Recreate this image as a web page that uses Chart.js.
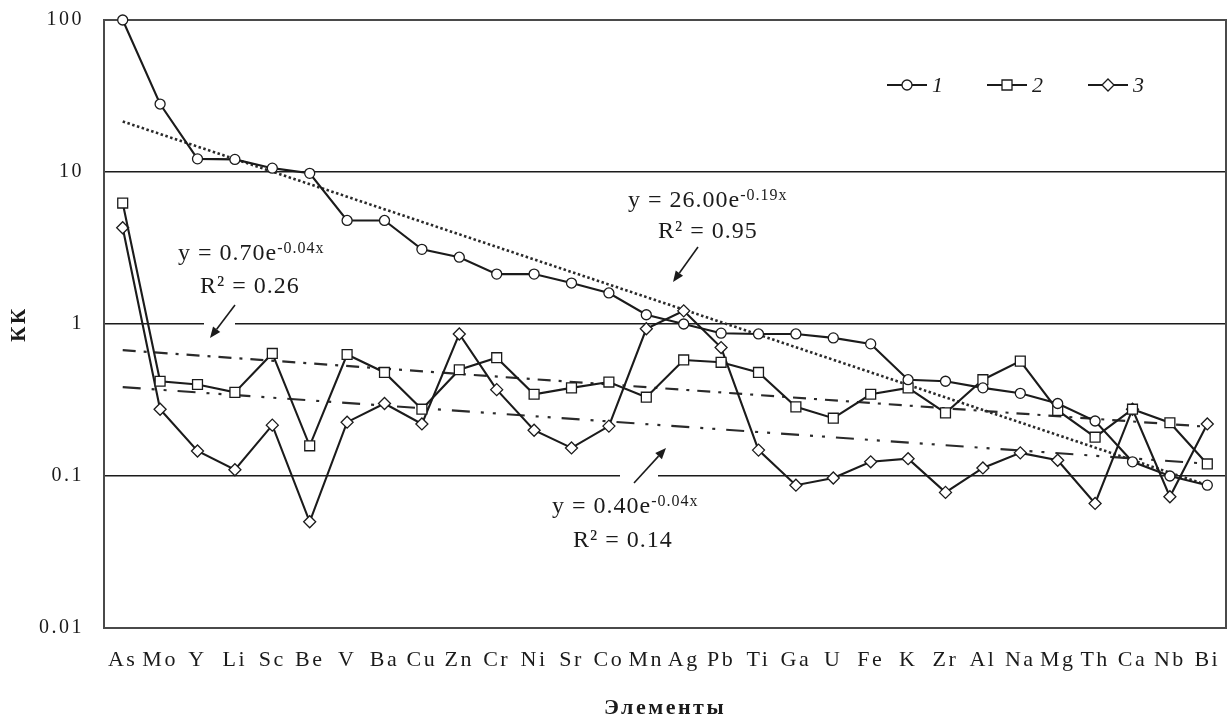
<!DOCTYPE html>
<html>
<head>
<meta charset="utf-8">
<script src="https://cdn.jsdelivr.net/npm/chart.js@4/dist/chart.umd.min.js"></script>
<style>
  html, body { margin: 0; padding: 0; background: #fff; }
  #wrap { width: 1227px; height: 722px; }
</style>
</head>
<body>
<div id="wrap"><canvas id="c" width="1227" height="722"></canvas></div>
<script>
// Concentration coefficients (КК) by element
const elements = ['As','Mo','Y','Li','Sc','Be','V','Ba','Cu','Zn','Cr','Ni','Sr','Co','Mn','Ag','Pb','Ti','Ga','U','Fe','K','Zr','Al','Na','Mg','Th','Ca','Nb','Bi'];
const series1 = [100, 28, 12.2, 12.1, 10.6, 9.8, 4.8, 4.8, 3.1, 2.75, 2.13, 2.13, 1.86, 1.6, 1.15, 1.0, 0.87, 0.86, 0.86, 0.81, 0.74, 0.43, 0.42, 0.38, 0.35, 0.30, 0.23, 0.124, 0.10, 0.087];
const series2 = [6.25, 0.42, 0.40, 0.355, 0.64, 0.158, 0.63, 0.48, 0.275, 0.50, 0.60, 0.345, 0.38, 0.415, 0.33, 0.58, 0.56, 0.48, 0.285, 0.24, 0.345, 0.38, 0.26, 0.43, 0.57, 0.27, 0.18, 0.275, 0.224, 0.12];
const series3 = [4.3, 0.275, 0.146, 0.11, 0.216, 0.05, 0.226, 0.30, 0.22, 0.86, 0.37, 0.20, 0.153, 0.213, 0.93, 1.22, 0.70, 0.148, 0.087, 0.097, 0.124, 0.13, 0.078, 0.113, 0.142, 0.127, 0.066, 0.275, 0.073, 0.22];
const seriesNames = ['1', '2', '3'];
// Exponential trends y = a·e^(b·x), x = 1..n
const trendA = [26.00, 0.70, 0.40];
const trendB = [-0.19, -0.04, -0.04];
const trendR2 = [0.95, 0.26, 0.14];
const yTicks = [0.01, 0.1, 1, 10, 100];

const SERIF = '"Liberation Serif", "Times New Roman", serif';
const INK = '#1b1b1b';

// Straight on a log axis, so the two end points define the trend line
function trendLine(i) {
  const n = elements.length;
  return elements.map((_, k) => (k === 0 || k === n - 1) ? trendA[i] * Math.exp(trendB[i] * (k + 1)) : null);
}

const markerStyles = [
  { pointStyle: 'circle', pointRadius: 5 },
  { pointStyle: 'rect', pointRadius: 7 },
  { pointStyle: 'rectRot', pointRadius: 6 }
];
const seriesData = [series1, series2, series3];

const datasets = seriesData.map((d, i) => ({
  label: seriesNames[i],
  data: d,
  borderColor: INK,
  borderWidth: 2.1,
  pointStyle: markerStyles[i].pointStyle,
  pointRadius: markerStyles[i].pointRadius,
  pointBackgroundColor: '#fff',
  pointBorderColor: INK,
  pointBorderWidth: 1.3,
  tension: 0,
  clip: 8
}));
const trendDash = [[2.5, 2.5], [13, 8, 3, 8], [18, 11, 3, 9, 3, 11]];
trendDash.forEach((dash, i) => datasets.push({
  label: 'trend ' + seriesNames[i],
  data: trendLine(i),
  borderColor: '#2a2a2a',
  borderWidth: i === 0 ? 2.6 : 2.2,
  borderDash: dash,
  pointRadius: 0,
  spanGaps: true,
  tension: 0
}));

// Equation labels with their arrows (pixel placement)
const notes = [
  { series: 0, x: 628, y: 207, rx: 658, ry: 238, from: [698, 247], to: [673, 282] },
  { series: 1, x: 178, y: 260, rx: 200, ry: 293, from: [235, 305], to: [210, 338] },
  { series: 2, x: 552, y: 513, rx: 573, ry: 547, from: [634, 483], to: [666, 448] }
];
// Breaks cut into the grid lines around the arrows
const gridBreaks = [ { value: 1, x0: 204, x1: 235 }, { value: 0.1, x0: 620, x1: 658 } ];

function drawMarker(ctx, style, x, y) {
  ctx.beginPath();
  if (style === 'circle') {
    ctx.arc(x, y, 5, 0, Math.PI * 2);
  } else if (style === 'rect') {
    ctx.rect(x - 5, y - 5, 10, 10);
  } else {
    ctx.moveTo(x, y - 6); ctx.lineTo(x + 6, y); ctx.lineTo(x, y + 6); ctx.lineTo(x - 6, y); ctx.closePath();
  }
  ctx.fillStyle = '#fff';
  ctx.fill();
  ctx.lineWidth = 1.3;
  ctx.strokeStyle = INK;
  ctx.stroke();
}

function drawArrow(ctx, from, to) {
  const ang = Math.atan2(to[1] - from[1], to[0] - from[0]);
  const len = 11, half = 4.5;
  const bx = to[0] - Math.cos(ang) * len, by = to[1] - Math.sin(ang) * len;
  ctx.strokeStyle = INK; ctx.lineWidth = 1.6;
  ctx.beginPath(); ctx.moveTo(from[0], from[1]); ctx.lineTo(bx, by); ctx.stroke();
  ctx.beginPath();
  ctx.moveTo(to[0], to[1]);
  ctx.lineTo(bx + Math.sin(ang) * half, by - Math.cos(ang) * half);
  ctx.lineTo(bx - Math.sin(ang) * half, by + Math.cos(ang) * half);
  ctx.closePath();
  ctx.fillStyle = INK; ctx.fill();
}

const decor = {
  id: 'decor',
  beforeDraw(chart) {
    chart.ctx.letterSpacing = '2.5px';
  },
  beforeDatasetsDraw(chart) {
    const ctx = chart.ctx, a = chart.chartArea, ys = chart.scales.y;
    ctx.save();
    ctx.fillStyle = '#fff';
    gridBreaks.forEach(g => {
      const py = ys.getPixelForValue(g.value);
      ctx.fillRect(g.x0, py - 2, g.x1 - g.x0, 4);
    });
    ctx.strokeStyle = '#4a4a4a';
    ctx.lineWidth = 2;
    ctx.strokeRect(a.left, a.top, a.right - a.left, a.bottom - a.top);
    ctx.restore();
  },
  afterDatasetsDraw(chart) {
    const ctx = chart.ctx;
    ctx.save();
    ctx.fillStyle = INK;
    ctx.textAlign = 'left';
    ctx.textBaseline = 'alphabetic';
    ctx.letterSpacing = '1px';
    notes.forEach(n => {
      const i = n.series;
      const main = 'y = ' + trendA[i].toFixed(2) + 'e';
      ctx.font = '24px ' + SERIF;
      ctx.fillStyle = INK;
      ctx.fillText(main, n.x, n.y);
      const w = ctx.measureText(main).width;
      ctx.fillText('R\u00B2 = ' + trendR2[i].toFixed(2), n.rx, n.ry);
      ctx.font = '16px ' + SERIF;
      ctx.fillText(trendB[i].toFixed(2) + 'x', n.x + w, n.y - 7);
      drawArrow(ctx, n.from, n.to);
    });
    // legend
    const cy = 85;
    const centers = [907, 1007, 1108];
    centers.forEach((cx, i) => {
      ctx.strokeStyle = INK; ctx.lineWidth = 2;
      ctx.beginPath(); ctx.moveTo(cx - 20, cy); ctx.lineTo(cx + 20, cy); ctx.stroke();
      drawMarker(ctx, markerStyles[i].pointStyle, cx, cy);
      ctx.font = 'italic 22px ' + SERIF;
      ctx.letterSpacing = '0px';
      ctx.textBaseline = 'middle';
      ctx.fillStyle = INK;
      ctx.fillText(seriesNames[i], cx + 25, cy + 1);
    });
    ctx.restore();
  }
};

function noEdgePadding(s) {
  s.paddingLeft = 0; s.paddingRight = 0; s.paddingTop = 0; s.paddingBottom = 0;
}

new Chart(document.getElementById('c'), {
  type: 'line',
  data: { labels: elements, datasets },
  plugins: [decor],
  options: {
    responsive: false,
    devicePixelRatio: 1,
    animation: false,
    layout: { autoPadding: false, padding: { top: 20, right: 1, left: 0, bottom: 0 } },
    plugins: { legend: { display: false }, tooltip: { enabled: false } },
    scales: {
      x: {
        type: 'category',
        offset: true,
        grid: { display: false, drawTicks: false },
        border: { display: false },
        ticks: { color: INK, font: { family: SERIF, size: 22 }, padding: 19, maxRotation: 0, minRotation: 0, autoSkip: false },
        title: { display: true, text: 'Элементы', color: INK, font: { family: SERIF, size: 22, weight: 'bold' }, padding: { top: 0, bottom: 0 } },
        afterFit(s) { s.height = 94; noEdgePadding(s); }
      },
      y: {
        type: 'logarithmic',
        min: 0.01,
        max: 100,
        afterBuildTicks(s) { s.ticks = yTicks.map(v => ({ value: v, major: true })); },
        grid: {
          drawTicks: false,
          lineWidth: 1.5,
          color: c => (c.tick && (c.tick.value === 100 || c.tick.value === 0.01)) ? 'rgba(0,0,0,0)' : INK
        },
        border: { display: false },
        ticks: { color: INK, font: { family: SERIF, size: 20 }, padding: 20, callback: v => String(v) },
        title: { display: true, text: 'КК', color: INK, font: { family: SERIF, size: 21, weight: 'bold' }, padding: { top: 7, bottom: 0 } },
        afterFit(s) { s.width = 104; noEdgePadding(s); }
      }
    }
  }
});
</script>
</body>
</html>
